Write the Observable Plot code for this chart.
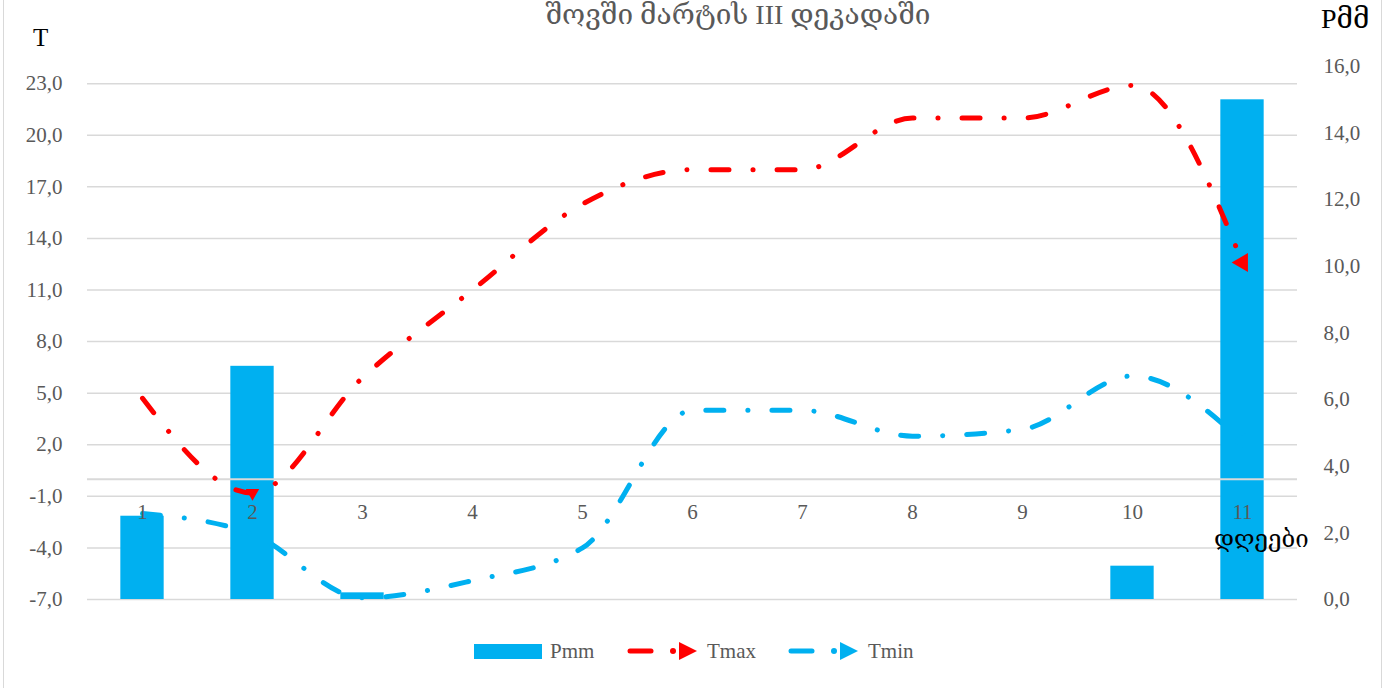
<!DOCTYPE html>
<html>
<head>
<meta charset="utf-8">
<script src="https://cdn.jsdelivr.net/npm/d3@7"></script>
<script src="https://cdn.jsdelivr.net/npm/@observablehq/plot@0.6"></script>
<style>
  html, body { margin: 0; padding: 0; background: #fff; }
  #wrap { position: relative; width: 1390px; height: 688px; overflow: hidden; font-family: "Liberation Serif", "DejaVu Serif", serif; }
  #frame { position: absolute; left: 3px; top: -10px; width: 1379px; height: 710px; border: 1.5px solid #d9d9d9; box-sizing: border-box; }
  .lbl { position: absolute; white-space: nowrap; line-height: 1; }
  #chart { position: absolute; left: 0; top: 0; }
  .leg { position: absolute; top: 640px; height: 22px; display: flex; align-items: center; font-size: 21px; color: #595959; }
</style>
</head>
<body>
<div id="wrap">
  <div id="frame"></div>
  <div id="chart"></div>
  <div class="lbl" id="title" style="left:0;width:1476px;text-align:center;top:1px;font-size:28px;color:#595959;">შოვში მარტის III დეკადაში</div>
  <div class="lbl" style="left:33px;top:25px;font-size:25px;color:#000;">T</div>
  <div class="lbl" style="left:1321px;top:5px;font-size:28px;color:#000;">Pმმ</div>
  <div class="lbl" style="left:1214px;top:527px;font-size:24px;color:#000;">დღეები</div>
  <div id="legend"></div>
</div>
<script>
// ---- data ----
const days = [1, 2, 3, 4, 5, 6, 7, 8, 9, 10, 11];
const pmm  = [2.5, 7.0, 0.2, 0, 0, 0, 0, 0, 0, 1.0, 15.0];
const tmax = [4.7, -0.8, 5.9, 11.0, 16.0, 18.0, 18.0, 21.0, 21.0, 22.9, 12.6];
const tmin = [-2.0, -3.2, -6.9, -5.9, -4.0, 4.0, 4.0, 2.5, 2.9, 6.0, 2.2];
const leftTicks  = [-7, -4, -1, 2, 5, 8, 11, 14, 17, 20, 23];
const rightTicks = [0, 2, 4, 6, 8, 10, 12, 14, 16];
const seriesNames = ["Pmm", "Tmax", "Tmin"];
const arrowDays = { tmax: [2, 11], tmin: [11] };

const blue = "#00B0F0", red = "#FF0000", grid = "#d9d9d9", gray = "#595959";
const yMin = -7, yMax = 24, pMax = 16;
// secondary axis (P) mapped onto primary range
const pToY = p => yMin + p * (yMax - yMin) / pMax;
const fmt = v => v.toFixed(1).replace(".", ",");

const rows = days.map((d, i) => ({ day: d, pmm: pmm[i], tmax: tmax[i], tmin: tmin[i] }));
const arrowRows = [
  ...arrowDays.tmax.map(d => ({ day: d, v: tmax[d - 1], c: red, rot: d === 2 ? 180 : -90, r: d === 2 ? 5 : 7 })),
  ...arrowDays.tmin.map(d => ({ day: d, v: tmin[d - 1], c: blue, rot: -90, r: 7 }))
];
const dash = "18,24,0.1,24";
const font = "Liberation Serif, DejaVu Serif, serif";

const chart = Plot.plot({
  width: 1390,
  height: 688,
  marginTop: 66,
  marginBottom: 89,
  marginLeft: 87,
  marginRight: 93,
  style: { fontFamily: font, background: "transparent" },
  x: { type: "linear", domain: [0.5, 11.5], axis: null },
  y: { type: "linear", domain: [yMin, yMax], axis: null },
  r: { type: "identity" },
  marks: [
    Plot.ruleY(leftTicks, { stroke: grid, strokeWidth: 1.5 }),
    Plot.rect(rows, { x1: d => d.day - 0.197, x2: d => d.day + 0.197, y1: yMin, y2: d => pToY(d.pmm), fill: blue }),
    Plot.ruleY([0], { stroke: grid, strokeWidth: 2 }),
    Plot.line(rows, { x: "day", y: "tmin", curve: "monotone-x", stroke: blue, strokeWidth: 5, strokeDasharray: dash, strokeLinecap: "round" }),
    Plot.line(rows, { x: "day", y: "tmax", curve: "monotone-x", stroke: red, strokeWidth: 5, strokeDasharray: dash, strokeLinecap: "round" }),
    Plot.dot(arrowRows, { x: "day", y: "v", symbol: "triangle", r: "r", fill: d => d.c, rotate: d => d.rot, stroke: null }),
    Plot.text(days, { x: d => d, y: 0, dy: 33, text: d => String(d), fill: gray, fontSize: 21 }),
    Plot.text(leftTicks, { frameAnchor: "left", y: d => d, dx: -25, textAnchor: "end", text: fmt, fill: gray, fontSize: 21 }),
    Plot.text(rightTicks, { frameAnchor: "right", y: d => pToY(d), dx: 26, textAnchor: "start", text: fmt, fill: gray, fontSize: 21 })
  ]
});
document.getElementById("chart").appendChild(chart);

// ---- legend ----
const leg = document.getElementById("legend");
function swatchLine(color) {
  return `<svg width="72" height="22" style="margin-right:8px"><line x1="3" y1="11" x2="24" y2="11" stroke="${color}" stroke-width="5" stroke-linecap="round"/><circle cx="46" cy="11" r="3" fill="${color}"/><path d="M52,2 L70,11 L52,20 Z" fill="${color}"/></svg>`;
}
const legItems = [
  { left: 474, html: `<span style="display:inline-block;width:68px;height:15px;background:${blue};margin-right:8px"></span>${seriesNames[0]}` },
  { left: 627, html: swatchLine(red) + seriesNames[1] },
  { left: 788, html: swatchLine(blue) + seriesNames[2] }
];
legItems.forEach(it => {
  const div = document.createElement("div");
  div.className = "leg";
  div.style.left = it.left + "px";
  div.innerHTML = it.html;
  leg.appendChild(div);
});
</script>
</body>
</html>
